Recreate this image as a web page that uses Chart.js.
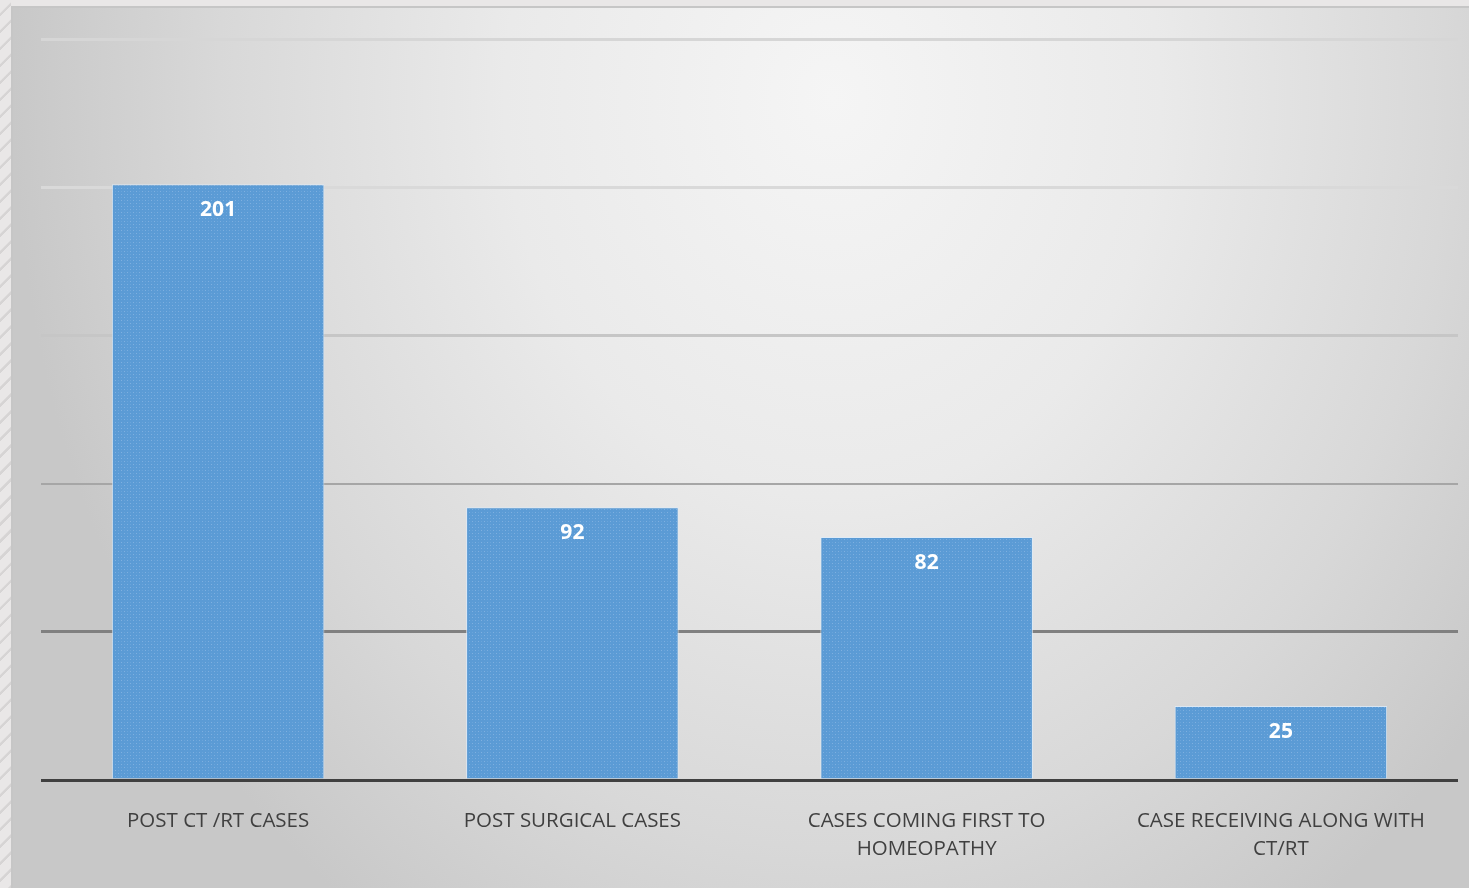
<!DOCTYPE html>
<html>
<head>
<meta charset="utf-8">
<script src="https://cdn.jsdelivr.net/npm/chart.js@4.4.0/dist/chart.umd.min.js"></script>
<style>
  html, body { margin: 0; padding: 0; }
  body {
    width: 1469px; height: 888px; overflow: hidden; position: relative;
    background: #e9e7e7;
  }
  #strip {
    position: absolute; left: 0; top: 0; width: 11px; height: 888px;
    background: repeating-linear-gradient(135deg, #e9e7e7 0px, #e9e7e7 9px, #d6d4d4 10px, #d6d4d4 12px);
  }
  #box {
    position: absolute; left: 11px; top: 6px; width: 1456px; height: 880px;
    border-top: 2px solid #c6c6c6; border-left: 2px solid #c6c6c6;
    background: radial-gradient(ellipse 820px 1000px at 820px 90px, #f5f5f5 0%, #eaeaea 40%, #d8d8d8 75%, #c8c8c8 100%);
  }
  canvas { display: block; }
</style>
</head>
<body>
<div id="strip"></div>
<div id="box"><canvas id="c" width="1456" height="880"></canvas></div>
<script>
var categories = [
  "POST CT /RT CASES",
  "POST SURGICAL CASES",
  ["CASES COMING FIRST TO", "HOMEOPATHY"],
  ["CASE RECEIVING ALONG WITH", "CT/RT"]
];
var values = [201, 92, 82, 25];
var yTicks = [0, 50, 100, 150, 200, 250];
var gridColors = ["#404040", "#808080", "#a6a6a6", "#c6c6c6", "#d9d9d9", "#d6d6d6"];

// dotted texture like the Excel pattern fill
function makePattern() {
  var t = document.createElement('canvas');
  t.width = 6; t.height = 6;
  var g = t.getContext('2d');
  g.fillStyle = '#5b9bd5';
  g.fillRect(0, 0, 6, 6);
  g.fillStyle = '#7fb0e0';
  g.fillRect(0, 0, 1, 1);
  g.fillRect(3, 3, 1, 1);
  g.fillStyle = '#6aa4da';
  g.fillRect(3, 0, 1, 1);
  g.fillRect(0, 3, 1, 1);
  return g.createPattern(t, 'repeat');
}

var valueLabels = {
  id: 'valueLabels',
  afterDatasetsDraw: function(chart) {
    var c = chart.ctx;
    var meta = chart.getDatasetMeta(0);
    c.save();
    c.fillStyle = '#ffffff';
    c.font = 'bold 21px "Open Sans"';
    c.textAlign = 'center';
    c.textBaseline = 'middle';
    meta.data.forEach(function(bar, i) {
      c.fillText(values[i], bar.x, bar.y + 26);
    });
    c.restore();
  }
};

var ctx = document.getElementById('c').getContext('2d');
var chart = new Chart(ctx, {
  type: 'bar',
  data: {
    labels: categories,
    datasets: [{
      data: values,
      backgroundColor: makePattern(),
      borderColor: 'rgba(220,235,250,0.8)',
      borderWidth: 1,
      categoryPercentage: 1,
      barPercentage: 0.6
    }]
  },
  options: {
    responsive: false,
    animation: false,
    layout: { padding: { left: 26, right: 11, top: 31, bottom: 0 } },
    plugins: { legend: { display: false }, tooltip: { enabled: false } },
    scales: {
      x: {
        grid: { display: false },
        border: { display: false },
        ticks: {
          color: '#404040',
          font: { family: '"Open Sans"', size: 20.5, lineHeight: 1.37 },
          padding: 19,
          maxRotation: 0,
          autoSkip: false
        },
        afterFit: function(scale) { scale.height = 108; }
      },
      y: {
        min: 0, max: 250,
        afterBuildTicks: function(scale) {
          scale.ticks = yTicks.map(function(v) { return { value: v }; });
        },
        ticks: { display: false },
        border: { display: false },
        grid: {
          drawTicks: false,
          color: function(c) { return gridColors[yTicks.indexOf(c.tick.value)]; },
          lineWidth: function(c) { return c.tick.value === 100 ? 2 : 3; }
        },
        afterFit: function(scale) { scale.width = 2; }
      }
    }
  },
  plugins: [valueLabels]
});
</script>
</body>
</html>
